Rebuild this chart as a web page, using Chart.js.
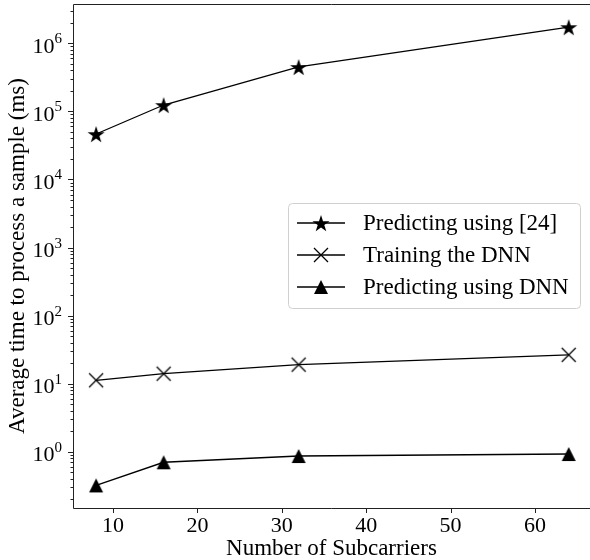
<!DOCTYPE html>
<html>
<head>
<meta charset="utf-8">
<script src="https://cdn.jsdelivr.net/npm/chart.js@4/dist/chart.umd.min.js"></script>
<style>
  html, body { margin: 0; padding: 0; background: #fff; }
  #wrap { width: 590px; height: 560px; }
</style>
</head>
<body>
<div id="wrap"><canvas id="c" width="590" height="560"></canvas></div>
<script>
const subcarriers = [8, 16, 32, 64];
const predictRef = [46500, 124000, 449000, 1730000];
const trainDnn = [11.2, 14.0, 19.0, 26.5];
const predictDnn = [0.32, 0.70, 0.865, 0.925];
const seriesNames = ['Predicting using [24]', 'Training the DNN', 'Predicting using DNN'];
const xTicks = [10, 20, 30, 40, 50, 60];
const yExps = [0, 1, 2, 3, 4, 5, 6];

const FONT = "'Liberation Serif', 'Times New Roman', serif";

// marker images
function mk(size, draw) {
    const c = document.createElement('canvas');
    c.width = size; c.height = size;
    const g = c.getContext('2d');
    draw(g, size / 2);
    return c;
}
const starImg = mk(20, (g, m) => {
    const R = 9, r = R * 0.382;
    g.beginPath();
    for (let i = 0; i < 10; i++) {
        const a = -Math.PI / 2 + i * Math.PI / 5;
        const rr = i % 2 ? r : R;
        g.lineTo(m + rr * Math.cos(a), m + 1 + rr * Math.sin(a));
    }
    g.closePath();
    g.fillStyle = '#000';
    g.fill();
});
const crossImg = mk(18, (g, m) => {
    const h = 7;
    g.strokeStyle = '#000';
    g.lineWidth = 1.3;
    g.beginPath();
    g.moveTo(m - h, m - h); g.lineTo(m + h, m + h);
    g.moveTo(m - h, m + h); g.lineTo(m + h, m - h);
    g.stroke();
});
const triImg = mk(18, (g, m) => {
    const h = 7;
    g.beginPath();
    g.moveTo(m, m - h);
    g.lineTo(m + h, m + h);
    g.lineTo(m - h, m + h);
    g.closePath();
    g.fillStyle = '#000';
    g.fill();
});
const markers = [starImg, crossImg, triImg];

function pts(ys) { return subcarriers.map((x, i) => ({x: x, y: ys[i]})); }

const frameAndLegend = {
    id: 'frameAndLegend',
    afterDraw(chart) {
        const ctx = chart.ctx;
        const a = chart.chartArea;
        const xs = chart.scales.x, ys = chart.scales.y;
        ctx.save();
        ctx.strokeStyle = '#222';
        ctx.lineWidth = 1;
        // figure is cut on the right, so only top, left and bottom spines
        ctx.beginPath();
        ctx.moveTo(a.right, a.top + 0.5);
        ctx.lineTo(a.left + 0.5, a.top + 0.5);
        ctx.lineTo(a.left + 0.5, a.bottom + 0.5);
        ctx.lineTo(a.right, a.bottom + 0.5);
        ctx.stroke();
        // x ticks
        ctx.beginPath();
        xTicks.forEach(v => {
            const px = Math.round(xs.getPixelForValue(v)) + 0.5;
            ctx.moveTo(px, a.bottom); ctx.lineTo(px, a.bottom + 5);
        });
        // y ticks, major and minor
        for (let e = -1; e <= 6; e++) {
            for (let k = 1; k <= 9; k++) {
                const v = k * Math.pow(10, e);
                if (v < ys.min || v > ys.max) continue;
                const py = Math.round(ys.getPixelForValue(v)) + 0.5;
                ctx.moveTo(a.left, py); ctx.lineTo(a.left - (k === 1 ? 5 : 2.5), py);
            }
        }
        ctx.stroke();

        // y tick labels 10^n with a real superscript
        ctx.fillStyle = '#000';
        ctx.textBaseline = 'alphabetic';
        yExps.forEach(e => {
            const py = ys.getPixelForValue(Math.pow(10, e));
            const ex = String(e);
            ctx.font = '15px ' + FONT;
            const ew = ctx.measureText(ex).width;
            const right = a.left - 11;
            ctx.textAlign = 'left';
            ctx.fillText(ex, right - ew, py);
            ctx.font = '22px ' + FONT;
            ctx.textAlign = 'right';
            ctx.fillText('10', right - ew, py + 9.5);
        });

        // legend
        const bx = 288, by = 203, bw = 292, bh = 105;
        ctx.beginPath();
        ctx.roundRect(bx + 0.5, by + 0.5, bw, bh, 4);
        ctx.fillStyle = 'rgba(255,255,255,0.8)';
        ctx.fill();
        ctx.strokeStyle = '#d0d0d0';
        ctx.lineWidth = 1;
        ctx.stroke();
        ctx.font = '23px ' + FONT;
        ctx.textAlign = 'left';
        ctx.textBaseline = 'middle';
        ctx.fillStyle = '#000';
        seriesNames.forEach((name, i) => {
            const y = 223 + i * 32;
            ctx.beginPath();
            ctx.strokeStyle = '#000';
            ctx.lineWidth = 1.3;
            ctx.moveTo(297, y); ctx.lineTo(345, y);
            ctx.stroke();
            const img = markers[i];
            ctx.drawImage(img, 321 - img.width / 2, y - img.height / 2);
            ctx.fillText(name, 363, y + 1);
        });
        ctx.restore();
    }
};

const datasets = [predictRef, trainDnn, predictDnn].map((ys, i) => ({
    label: seriesNames[i],
    data: pts(ys),
    borderColor: '#000',
    borderWidth: 1.3,
    pointStyle: markers[i],
    pointRadius: 8,
    tension: 0,
    fill: false
}));

function noPad(s) {
    s.paddingTop = 0; s.paddingBottom = 0; s.paddingLeft = 0; s.paddingRight = 0;
}

new Chart(document.getElementById('c'), {
    type: 'line',
    data: { datasets: datasets },
    options: {
        responsive: false,
        animation: false,
        layout: { autoPadding: false, padding: { top: 4, right: 0, left: 0, bottom: 0 } },
        plugins: { legend: { display: false }, tooltip: { enabled: false } },
        scales: {
            x: {
                type: 'linear',
                min: 5.26,
                max: 66.52,
                afterBuildTicks: s => { s.ticks = xTicks.map(v => ({value: v})); },
                afterFit: s => { s.height = 52; noPad(s); },
                grid: { display: false, drawTicks: false },
                border: { display: false },
                ticks: { color: '#000', font: { family: FONT, size: 22 }, padding: 5, maxRotation: 0 },
                title: { display: true, text: 'Number of Subcarriers', color: '#000',
                         font: { family: FONT, size: 23, lineHeight: 1 }, padding: { top: 0, bottom: 0 } }
            },
            y: {
                type: 'logarithmic',
                min: 0.149,
                max: 3.78e6,
                afterBuildTicks: s => { s.ticks = yExps.map(e => ({value: Math.pow(10, e)})); },
                afterFit: s => { s.width = 73; noPad(s); },
                grid: { display: false, drawTicks: false },
                border: { display: false },
                ticks: { display: false },
                title: { display: true, text: 'Average time to process a sample (ms)', color: '#000',
                         font: { family: FONT, size: 23, lineHeight: 1 }, padding: { top: 6, bottom: 0 } }
            }
        }
    },
    plugins: [frameAndLegend]
});
</script>
</body>
</html>
